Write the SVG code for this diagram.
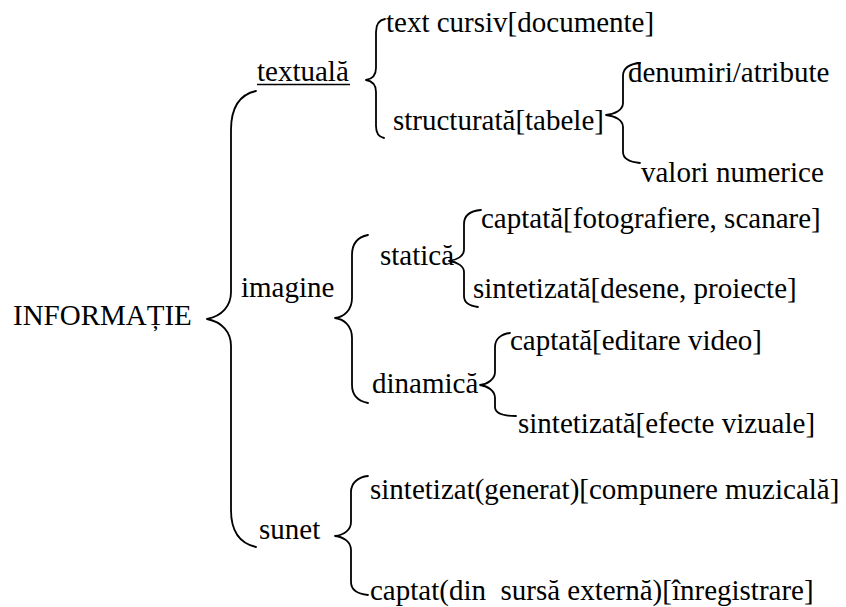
<svg xmlns="http://www.w3.org/2000/svg" width="846" height="607" viewBox="0 0 846 607">
<style>
text{font-size:29px;fill:#000;white-space:pre}
.br{fill:none;stroke:#000;stroke-width:1.8;stroke-linecap:round;stroke-linejoin:round}
.ul{stroke:#000;stroke-width:1.6}
</style>
<rect width="846" height="607" fill="#fff"/>
<g id="connectors">
<path class="br" d="M256,91 C238,95 231,110 231,130 L231,292 C231,306 222,316 207,319 C222,322 231,332 231,346 L231,510 C231,530 238,543 256,547"/>
<path class="br" d="M385,19 C379,20 376,25 376,32 L376,68 C376,75 372,79 366,80 C372,81 376,85 376,92 L376,126 C376,133 379,137 384,138"/>
<path class="br" d="M640,63 C629,64 623,68 623,76 L623,103 C623,110 615,114 606,115 C615,116 623,120 623,127 L623,152 C623,159 629,162 640,163"/>
<path class="br" d="M368,235 C358,237 352,243 352,255 L352,298 C352,310 344,317 335,318 C344,319 352,326 352,338 L352,385 C352,396 358,401 368,403"/>
<path class="br" d="M481,210 C470,211 464,216 464,224 L464,250 C464,256 457,260 449,261 C457,262 464,266 464,272 L464,296 C464,303 470,306 478,307"/>
<path class="br" d="M510,333 C501,334 495,339 495,347 L495,372 C495,379 488,384 480,385 C488,386 495,391 495,398 L495,407 C495,413 503,416 516,416"/>
<path class="br" d="M368,476 C358,477 351,483 351,492 L351,522 C351,530 344,535 335,536 C344,537 351,542 351,550 L351,582 C351,590 358,594 368,595"/>
</g>
<g font-family="Liberation Serif, Times New Roman, Times, DejaVu Serif, serif">
<g id="n-informatie"><text x="13" y="325">INFORMAȚIE</text></g>
<g id="n-textuala"><text x="257" y="81">textuală</text><line class="ul" x1="257" y1="84.5" x2="350" y2="84.5"/></g>
<g id="n-text-cursiv"><text x="386" y="32">text cursiv[documente]</text></g>
<g id="n-structurata"><text x="393" y="130">structurată[tabele]</text></g>
<g id="n-denumiri"><text x="628" y="82">denumiri/atribute</text></g>
<g id="n-valori"><text x="641" y="182">valori numerice</text></g>
<g id="n-imagine"><text x="241" y="297">imagine</text></g>
<g id="n-statica"><text x="380" y="265">statică</text></g>
<g id="n-captata-foto"><text x="481" y="228">captată[fotografiere, scanare]</text></g>
<g id="n-sintetizata-desene"><text x="473" y="298">sintetizată[desene, proiecte]</text></g>
<g id="n-dinamica"><text x="372" y="393">dinamică</text></g>
<g id="n-captata-video"><text x="510" y="350">captată[editare video]</text></g>
<g id="n-sintetizata-efecte"><text x="518" y="433">sintetizată[efecte vizuale]</text></g>
<g id="n-sunet"><text x="259" y="539">sunet</text></g>
<g id="n-sintetizat"><text x="370" y="499">sintetizat(generat)[compunere muzicală]</text></g>
<g id="n-captat"><text x="370" y="600">captat(din  sursă externă)[înregistrare]</text></g>
</g>
</svg>
